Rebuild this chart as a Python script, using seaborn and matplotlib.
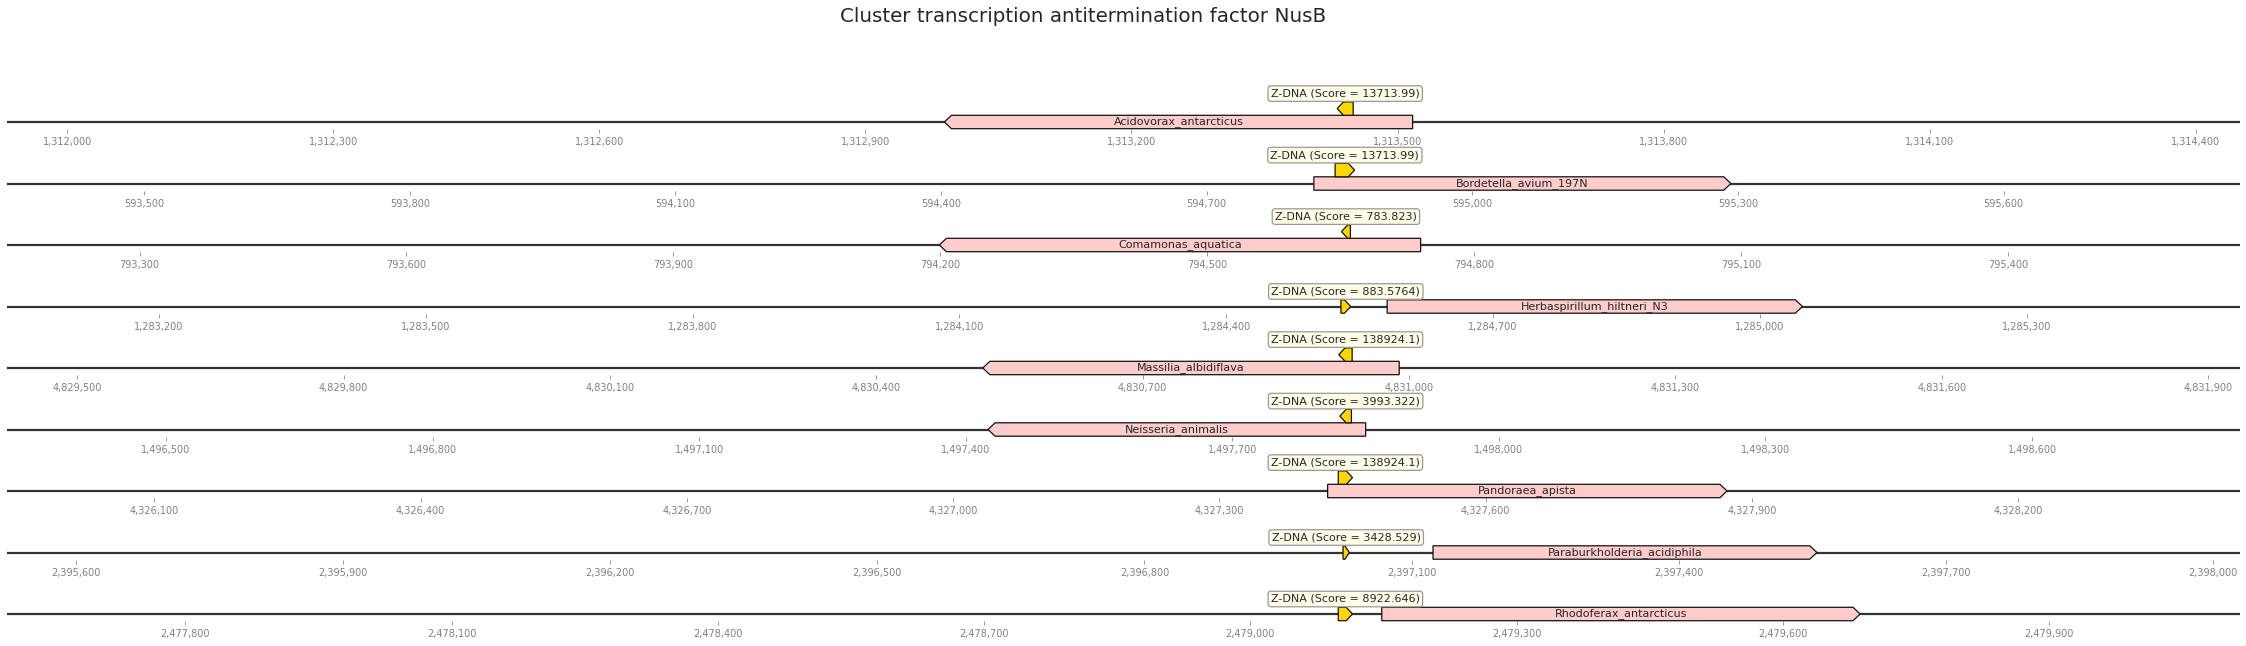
import matplotlib
matplotlib.use("Agg")
import matplotlib.pyplot as plt
from matplotlib.patches import Polygon
from matplotlib.ticker import MultipleLocator, FuncFormatter
import seaborn as sns

# Data
species = ["Acidovorax_antarcticus", "Bordetella_avium_197N", "Comamonas_aquatica",
           "Herbaspirillum_hiltneri_N3", "Massilia_albidiflava", "Neisseria_animalis",
           "Pandoraea_apista", "Paraburkholderia_acidiphila", "Rhodoferax_antarcticus"]
gene_start = [1312989, 594821, 794199, 1284581, 4830520, 1497425, 4327422, 2397124, 2479148]
gene_end = [1313517, 595292, 794740, 1285048, 4830989, 1497850, 4327872, 2397555, 2479687]
gene_strand = [-1, 1, -1, 1, -1, -1, 1, 1, 1]
zdna_start = [1313432, 594845, 794651, 1284529, 4830921, 1497821, 4327434, 2397023, 2479099]
zdna_end = [1313450, 594867, 794661, 1284540, 4830936, 1497834, 4327450, 2397030, 2479115]
zdna_strand = [-1, 1, -1, 1, -1, -1, 1, 1, 1]
zdna_score = ["13713.99", "13713.99", "783.823", "883.5764", "138924.1",
              "3993.322", "138924.1", "3428.529", "8922.646"]
title = "Cluster transcription antitermination factor NusB"

FLANK_LEFT = 1500
FLANK_RIGHT = 1000

sns.set_style("white")
plt.rcParams['font.family'] = ['DejaVu Sans']


def arrow(ax, start, end, strand, level, color, head=8):
    """Draw a feature as a pentagon arrow at the given level."""
    h = min(head, 0.7 * (end - start))
    lo, hi = level - 0.5, level + 0.5
    if strand > 0:
        pts = [(start, lo), (end - h, lo), (end, level), (end - h, hi), (start, hi)]
    else:
        pts = [(end, lo), (start + h, lo), (start, level), (start + h, hi), (end, hi)]
    ax.add_patch(Polygon(pts, closed=True, facecolor=color, edgecolor="#111111",
                         lw=0.9, zorder=3, clip_on=False))


def overlaps(a0, a1, b0, b1):
    return a0 < b1 and b0 < a1


W, H = 2246, 646
fig = plt.figure(figsize=(W / 100, H / 100), dpi=100)
unit = 13.4  # pixels per feature level
for i, name in enumerate(species):
    line_y = 122 + 61.5 * i
    top = line_y - 3.6 * unit
    bottom = line_y + 0.55 * unit
    ax = fig.add_axes([7 / W, 1 - bottom / H, (2240 - 7) / W, (bottom - top) / H])
    lo = zdna_start[i] - FLANK_LEFT
    hi = zdna_end[i] + FLANK_RIGHT
    ax.set_xlim(lo, hi)
    ax.set_ylim(-0.55, 3.6)

    ax.plot([lo, hi], [0, 0], color="#333333", lw=1.6, zorder=1, solid_capstyle="butt")
    arrow(ax, gene_start[i], gene_end[i], gene_strand[i], 0, "#ffcccc")
    ax.text((gene_start[i] + gene_end[i]) / 2, 0, name, ha="center", va="center",
            fontsize=8, zorder=4)

    zlevel = 1 if overlaps(zdna_start[i], zdna_end[i], gene_start[i], gene_end[i]) else 0
    arrow(ax, zdna_start[i], zdna_end[i], zdna_strand[i], zlevel, "#ffd700", head=7)
    ax.text((zdna_start[i] + zdna_end[i]) / 2, zlevel + 1.12,
            "Z-DNA (Score = %s)" % zdna_score[i], ha="center", va="center", fontsize=8,
            zorder=5,
            bbox=dict(boxstyle="round,pad=0.25", facecolor="#fffde8",
                      edgecolor="#999999", lw=0.9))

    ax.xaxis.set_major_locator(MultipleLocator(300, offset=100))
    ax.xaxis.set_major_formatter(FuncFormatter(lambda v, p: "{:,}".format(int(round(v)))))
    ax.tick_params(axis="x", bottom=True, length=3, width=0.7, color="#999999",
                   labelsize=7, labelcolor="#808080", pad=2.5)
    ax.set_yticks([])
    sns.despine(ax=ax, left=True, bottom=True)
    ax.set_facecolor("none")

fig.text(1083.5 / W, 1 - 17 / H, title, ha="center", va="center", fontsize=14.3)
fig.savefig("out.png", dpi=100)
